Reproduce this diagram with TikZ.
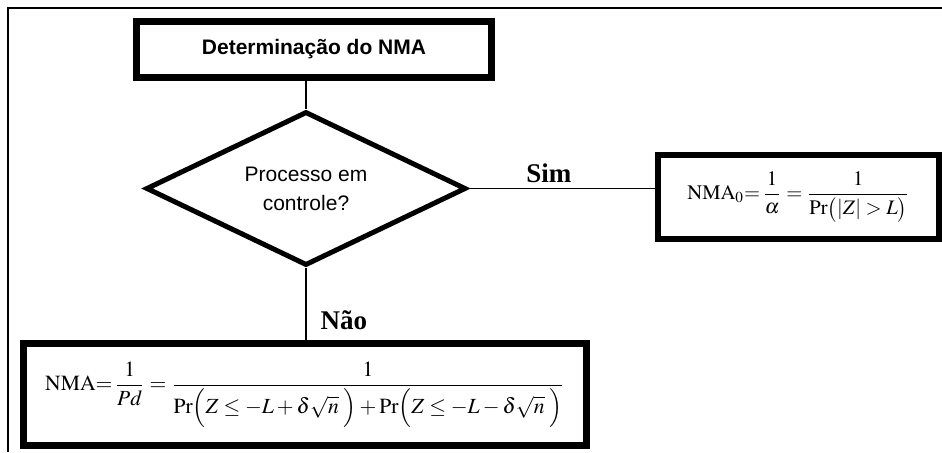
\documentclass[tikz,border=0pt]{standalone}
\usepackage{amsmath}
\usepackage{mathptmx}
\usepackage[no-math]{fontspec}
\setmainfont{Liberation Serif}
\setsansfont{Liberation Sans}
\usetikzlibrary{shapes.geometric}

\begin{document}
\begin{tikzpicture}[x=.5pt,y=-.5pt,
    caixa/.style={draw,rectangle,inner sep=0pt},
    decisao/.style={draw,diamond,aspect=2,inner sep=0pt,line width=2.5pt,miter limit=10,
        font=\sffamily\fontsize{10.5}{14.5}\selectfont,align=center},
    rotulo/.style={font=\bfseries\fontsize{13.5}{16}\selectfont,inner sep=0pt}]
    \useasboundingbox (0,0) rectangle (942,452);
    \draw[line width=.8pt] (8,452) -- (8,8) -- (942,8);
    \node[caixa,line width=3.25pt,minimum width=177.5pt,minimum height=28pt,
        font=\sffamily\bfseries\fontsize{10.5}{12}\selectfont] (inicio) at (314,49.5) {Determinação do NMA};
    \node[decisao,minimum width=160pt,minimum height=77pt] (teste) at (306,188.5) {Processo em\\controle?};
    \node[caixa,line width=2.75pt,minimum width=140.5pt,minimum height=42pt,font=\fontsize{10.3}{12}\selectfont] (nma0) at (798.5,197)
        {$\mathrm{NMA}_0{=}\,\dfrac{1}{\alpha}=\dfrac{1}{\mathrm{Pr}\bigl(|Z|>L\bigr)}$};
    \node[caixa,line width=3.5pt,minimum width=281.5pt,minimum height=51pt,font=\fontsize{10.8}{12}\selectfont] (nma) at (305,394.5)
        {$\mathrm{NMA}{=}\,\dfrac{1}{Pd}=\dfrac{1}{\mathrm{Pr}\Bigl(Z\le -L+\delta\sqrt{n}\;\Bigr)+\mathrm{Pr}\Bigl(Z\le -L-\delta\sqrt{n}\;\Bigr)}$};
    \draw[line width=.6pt] (teste.north |- inicio.south) -- (teste.north);
    \draw[line width=.6pt] (teste.east) -- node[rotulo,pos=.43,above=2.5pt]{Sim} (teste.east -| nma0.west);
    \draw[line width=.6pt] (teste.south) -- node[rotulo,pos=1,anchor=south west,xshift=7pt,yshift=5pt]{Não} (teste.south |- nma.north);
\end{tikzpicture}
\end{document}
